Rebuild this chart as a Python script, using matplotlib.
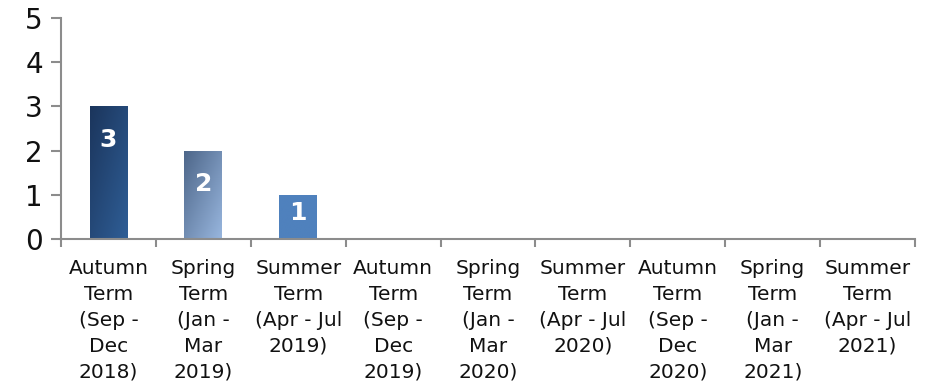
import numpy as np
import matplotlib
matplotlib.use("Agg")
import matplotlib.pyplot as plt
from matplotlib.colors import LinearSegmentedColormap

categories = [
    "Autumn\nTerm\n(Sep -\nDec\n2018)",
    "Spring\nTerm\n(Jan -\nMar\n2019)",
    "Summer\nTerm\n(Apr - Jul\n2019)",
    "Autumn\nTerm\n(Sep -\nDec\n2019)",
    "Spring\nTerm\n(Jan -\nMar\n2020)",
    "Summer\nTerm\n(Apr - Jul\n2020)",
    "Autumn\nTerm\n(Sep -\nDec\n2020)",
    "Spring\nTerm\n(Jan -\nMar\n2021)",
    "Summer\nTerm\n(Apr - Jul\n2021)",
]
values = [3, 2, 1, 0, 0, 0, 0, 0, 0]
yticks = [0, 1, 2, 3, 4, 5]
# gradient colours (top-left -> bottom-right) for each bar
bar_colors = [
    ("#1B355C", "#2F5E96"),
    ("#4D6689", "#98B6DE"),
    ("#4F81BD", "#4F81BD"),
] + [("#4F81BD", "#4F81BD")] * 6

plt.rcParams['font.family'] = ['DejaVu Sans']
fig = plt.figure(figsize=(9.32, 3.85), dpi=100)
ax = fig.add_axes([0.0655, 0.379, 0.9163, 0.574])

x = np.arange(len(categories))
width = 0.4
bars = ax.bar(x, values, width=width, color="none", edgecolor="none", zorder=2)
ax.set_xlim(-0.5, len(categories) - 0.5)
ax.set_ylim(0, 5)

# gradient fill
gx, gy = np.meshgrid(np.linspace(0, 1, 64), np.linspace(0, 1, 64))
grad = (gx + (1 - gy)) / 2.0
for b, (c1, c2), v in zip(bars, bar_colors, values):
    if v <= 0:
        continue
    cmap = LinearSegmentedColormap.from_list("g", [c1, c2])
    x0, w, h = b.get_x(), b.get_width(), b.get_height()
    im = ax.imshow(grad, cmap=cmap, extent=[x0, x0 + w, 0, h], origin="lower",
                   aspect="auto", zorder=2, vmin=0, vmax=1)
    im.set_clip_path(b)
    # label
    if v >= 2:
        ax.annotate(str(v), (b.get_x() + w / 2, v), xytext=(0, -24),
                    textcoords="offset points", ha="center", va="center",
                    color="white", fontsize=18, fontweight="bold", zorder=3)
    else:
        ax.annotate(str(v), (b.get_x() + w / 2, v * 0.6), ha="center", va="center",
                    color="white", fontsize=18, fontweight="bold", zorder=3)

ax.set_xlim(-0.5, len(categories) - 0.5)
ax.set_ylim(0, 5)

for s in ["top", "right"]:
    ax.spines[s].set_visible(False)
for s in ["left", "bottom"]:
    ax.spines[s].set_color("#8C8C8C")
    ax.spines[s].set_linewidth(1.5)

ax.set_yticks(yticks)
ax.set_yticklabels([str(t) for t in yticks], fontsize=20, color="#111111")
ax.tick_params(axis="y", direction="out", length=7, width=1.5, color="#8C8C8C", pad=6)

ax.set_xticks(np.arange(-0.5, len(categories) + 0.5, 1), minor=False)
ax.set_xticklabels([])
ax.set_xticks(x, minor=True)
ax.set_xticklabels(categories, minor=True, fontsize=14.5, color="#111111",
                   linespacing=1.47, va="top")
ax.tick_params(axis="x", which="major", direction="out", length=6, width=1.5, color="#8C8C8C")
ax.tick_params(axis="x", which="minor", length=0, pad=14)

fig.savefig("out.png", dpi=100)
